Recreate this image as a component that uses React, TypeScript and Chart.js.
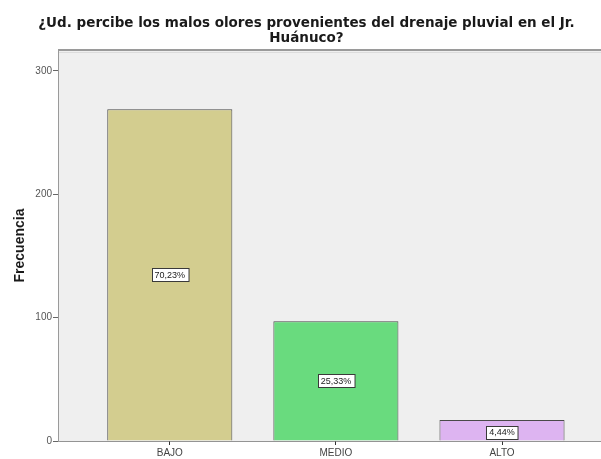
import React, { useEffect, useRef } from "react";
import { Chart, registerables } from "chart.js";

Chart.register(...registerables);

const categories = ["BAJO", "MEDIO", "ALTO"];
const frequencies = [269, 97, 17];
const percentLabels = ["70,23%", "25,33%", "4,44%"];
const yTicks = [0, 100, 200, 300];
const barColors = ["#d3cd8f", "#69db7e", "#ddb4f1"];
const titleLines = [
  "¿Ud. percibe los malos olores provenientes del drenaje pluvial en el Jr.",
  "Huánuco?",
];
const yTitle = "Frecuencia";

const FONT = "'Liberation Sans', Arial, sans-serif";
const TITLE_FONT = "'DejaVu Sans', Verdana, sans-serif";

const plotBg = {
  id: "plotBg",
  beforeDatasetsDraw(chart: any) {
    const { ctx, chartArea } = chart;
    ctx.save();
    ctx.fillStyle = "#efefef";
    ctx.fillRect(chartArea.left, chartArea.top, chartArea.right - chartArea.left, chartArea.bottom - chartArea.top);
    ctx.strokeStyle = "#9a9a9a";
    ctx.lineWidth = 2;
    ctx.beginPath();
    ctx.moveTo(chartArea.left, chartArea.top);
    ctx.lineTo(chartArea.right, chartArea.top);
    ctx.stroke();
    ctx.strokeStyle = "#dcdcdc";
    ctx.lineWidth = 1;
    ctx.beginPath();
    ctx.moveTo(chartArea.left, chartArea.top + 2.5);
    ctx.lineTo(chartArea.right, chartArea.top + 2.5);
    ctx.stroke();
    ctx.restore();
  },
};

const boxLabels = {
  id: "boxLabels",
  afterDatasetsDraw(chart: any) {
    const { ctx } = chart;
    const meta = chart.getDatasetMeta(0);
    ctx.save();
    ctx.font = `9px ${FONT}`;
    ctx.textAlign = "center";
    ctx.textBaseline = "middle";
    meta.data.forEach((bar: any, i: number) => {
      const text = percentLabels[i];
      const h = 13;
      let cy = (bar.y + bar.base) / 2;
      if (bar.base - bar.y < 2 * h) cy = bar.base - 2 - h / 2;
      const w = ctx.measureText(text).width + 6;
      const x0 = Math.round(bar.x - w / 2) + 0.5;
      const y0 = Math.round(cy - h / 2) + 0.5;
      ctx.fillStyle = "#ffffff";
      ctx.fillRect(x0, y0, w, h);
      ctx.strokeStyle = "#3a3a3a";
      ctx.lineWidth = 1;
      ctx.strokeRect(x0, y0, w, h);
      ctx.fillStyle = "#222222";
      ctx.fillText(text, bar.x, cy + 0.5);
    });
    ctx.restore();
  },
};

export default function App() {
  const ref = useRef<HTMLCanvasElement>(null);

  useEffect(() => {
    if (!ref.current) return;
    const chart = new Chart(ref.current, {
      type: "bar",
      data: {
        datasets: [
          {
            data: frequencies.map((v, i) => ({ x: i, y: v })),
            backgroundColor: barColors,
            borderColor: "#4a4a4a",
            borderWidth: 1,
            categoryPercentage: 1,
            barPercentage: 0.753,
          },
        ],
      },
      options: {
        responsive: false,
        animation: false,
        layout: { padding: { left: 12, right: 0, top: 0, bottom: 0 } },
        plugins: {
          legend: { display: false },
          tooltip: { enabled: false },
          title: {
            display: true,
            text: titleLines,
            color: "#1a1a1a",
            font: { family: TITLE_FONT, size: 13.5, weight: "bold", lineHeight: 15 / 13.5 },
            padding: { top: 15.5, bottom: 4.5 },
          },
        },
        scales: {
          x: {
            type: "linear",
            offset: false,
            min: -0.667,
            max: 2.596,
            afterBuildTicks: (scale: any) => {
              scale.ticks = categories.map((_, i) => ({ value: i }));
            },
            afterFit: (scale: any) => {
              scale.height = 18;
            },
            ticks: {
              autoSkip: false,
              maxRotation: 0,
              padding: 2,
              color: "#444",
              font: { family: FONT, size: 10 },
              callback: (v: any) => categories[v as number] ?? "",
            },
            grid: {
              offset: false,
              drawOnChartArea: false,
              drawTicks: true,
              tickLength: 4,
              color: "#333",
            },
            border: { display: true, color: "#2a2a2a", width: 1.5 },
          },
          y: {
            type: "linear",
            min: 0,
            max: 317,
            afterBuildTicks: (scale: any) => {
              scale.ticks = yTicks.map((v) => ({ value: v }));
            },
            afterFit: (scale: any) => {
              scale.width = 47;
            },
            ticks: {
              padding: 1,
              color: "#555",
              font: { family: FONT, size: 10 },
            },
            grid: {
              drawOnChartArea: false,
              drawTicks: true,
              tickLength: 6,
              color: "#666",
            },
            border: { display: true, color: "#9a9a9a", width: 2 },
            title: {
              display: true,
              text: yTitle,
              color: "#1a1a1a",
              font: { family: FONT, size: 14, weight: "bold" },
              padding: { top: 0, bottom: 11 },
            },
          },
        },
      },
      plugins: [plotBg, boxLabels],
    });
    return () => chart.destroy();
  }, []);

  return (
    <div style={{ position: "absolute", left: 0, top: 0, width: 601, height: 459, background: "#fff" }}>
      <canvas ref={ref} width={601} height={459} />
    </div>
  );
}
